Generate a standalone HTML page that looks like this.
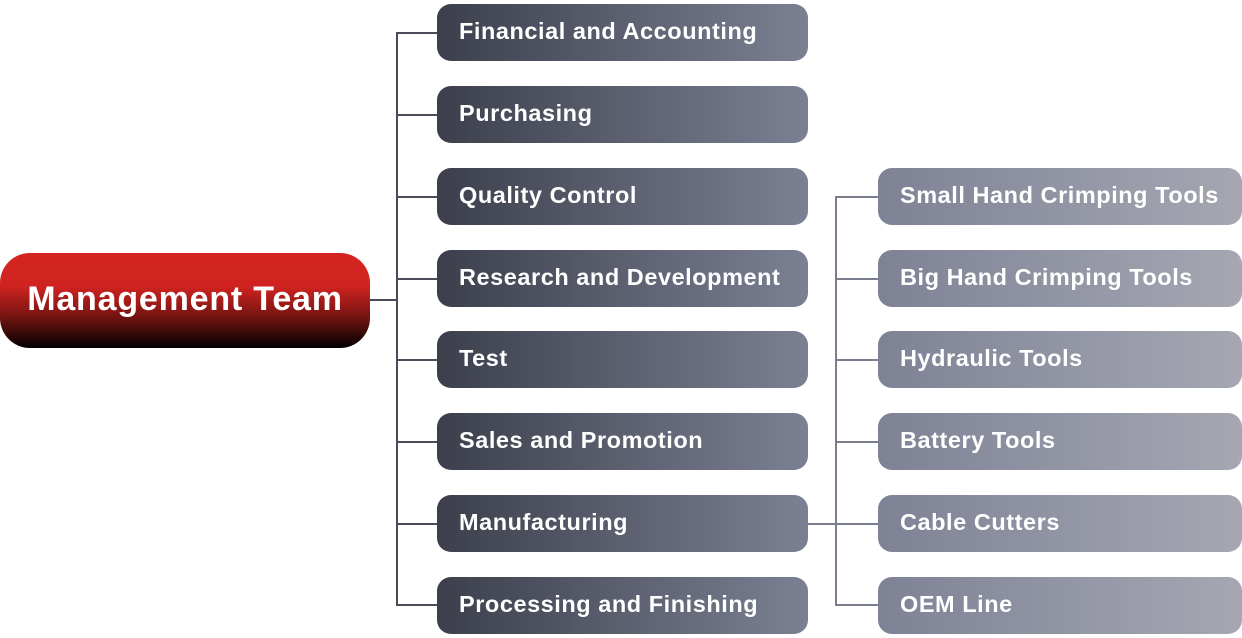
<!DOCTYPE html>
<html><head><style>
body{margin:0;width:1242px;height:638px;background:#fff;position:relative;font-family:"Liberation Sans",sans-serif;overflow:hidden}
.b{position:absolute;height:57px;border-radius:14px;color:#fff;font-weight:bold;font-size:23.5px;letter-spacing:0.55px;line-height:55px;padding-left:22px;box-sizing:border-box;white-space:nowrap}
.m{left:437px;width:371px;background:linear-gradient(90deg,#3c3f4b,#7b8093)}
.r{left:878px;width:364px;background:linear-gradient(90deg,#7e8295,#a5a7b2)}
.l{position:absolute;background:#4a4d58}
#mt{position:absolute;left:0;top:253px;width:370px;height:95px;border-radius:30px;background:linear-gradient(180deg,#d42420 0%,#d02320 35%,#7a1512 65%,#000 100%);color:#fff;font-weight:bold;font-size:34px;letter-spacing:0.8px;line-height:92px;text-align:center}
</style></head><body>
<div class="l" style="left:370px;top:299px;width:28px;height:2px"></div>
<div class="l" style="left:396px;top:32px;width:2px;height:574px"></div>
<div class="l" style="left:396px;top:32px;width:41px;height:2px"></div>
<div class="l" style="left:396px;top:114px;width:41px;height:2px"></div>
<div class="l" style="left:396px;top:196px;width:41px;height:2px"></div>
<div class="l" style="left:396px;top:278px;width:41px;height:2px"></div>
<div class="l" style="left:396px;top:359px;width:41px;height:2px"></div>
<div class="l" style="left:396px;top:441px;width:41px;height:2px"></div>
<div class="l" style="left:396px;top:523px;width:41px;height:2px"></div>
<div class="l" style="left:396px;top:604px;width:41px;height:2px"></div>
<div class="l" style="left:808px;top:523px;width:70px;height:2px;background:#7a7e8f"></div>
<div class="l" style="left:835px;top:196px;width:2px;height:410px;background:#7a7e8f"></div>
<div class="l" style="left:835px;top:196px;width:43px;height:2px;background:#7a7e8f"></div>
<div class="l" style="left:835px;top:278px;width:43px;height:2px;background:#7a7e8f"></div>
<div class="l" style="left:835px;top:359px;width:43px;height:2px;background:#7a7e8f"></div>
<div class="l" style="left:835px;top:441px;width:43px;height:2px;background:#7a7e8f"></div>
<div class="l" style="left:835px;top:604px;width:43px;height:2px;background:#7a7e8f"></div>
<div id="mt">Management Team</div>
<div class="b m" style="top:4px">Financial and Accounting</div>
<div class="b m" style="top:86px">Purchasing</div>
<div class="b m" style="top:168px">Quality Control</div>
<div class="b m" style="top:250px">Research and Development</div>
<div class="b m" style="top:331px">Test</div>
<div class="b m" style="top:413px">Sales and Promotion</div>
<div class="b m" style="top:495px">Manufacturing</div>
<div class="b m" style="top:577px">Processing and Finishing</div>
<div class="b r" style="top:168px">Small Hand Crimping Tools</div>
<div class="b r" style="top:250px">Big Hand Crimping Tools</div>
<div class="b r" style="top:331px">Hydraulic Tools</div>
<div class="b r" style="top:413px">Battery Tools</div>
<div class="b r" style="top:495px">Cable Cutters</div>
<div class="b r" style="top:577px">OEM Line</div>
</body></html>
